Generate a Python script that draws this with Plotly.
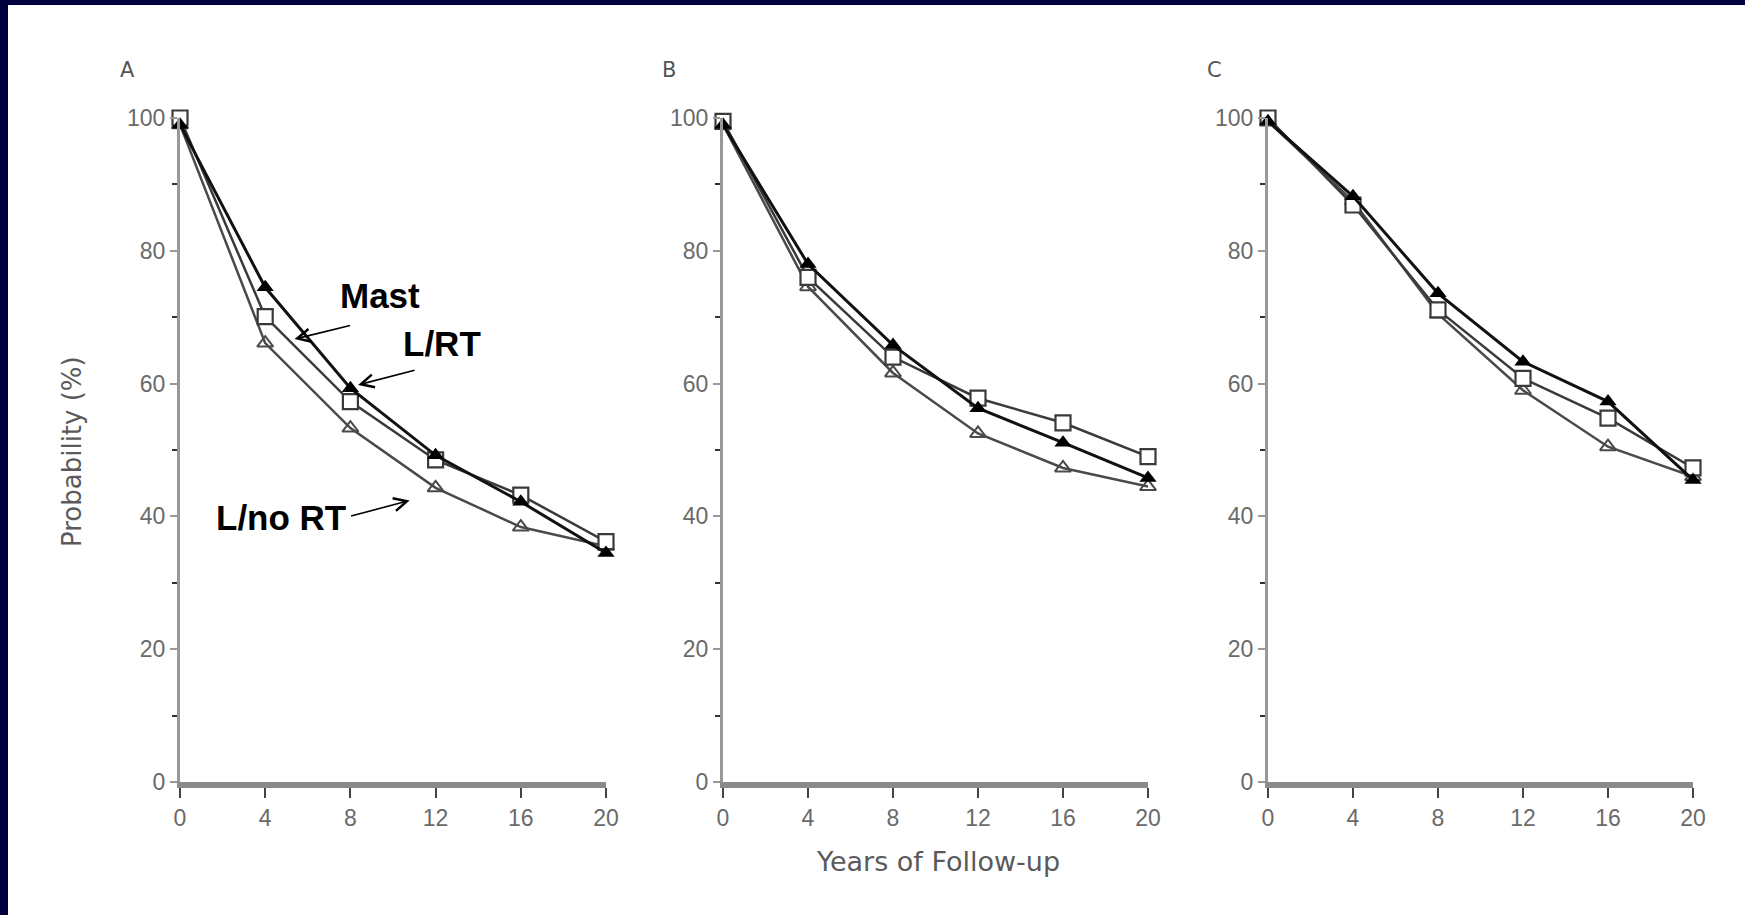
import plotly.graph_objects as go

years = [0, 4, 8, 12, 16, 20]

mast_A = [100, 70.1, 57.3, 48.5, 43.2, 36.2]
lrt_A = [99, 74.5, 59.3, 49.2, 42.2, 34.5]
lnort_A = [99, 66.1, 53.3, 44.3, 38.4, 35.5]

mast_B = [99.5, 76.0, 64.0, 57.8, 54.1, 49.0]
lrt_B = [99, 78.0, 65.8, 56.3, 51.1, 45.8]
lnort_B = [99, 74.6, 61.6, 52.5, 47.3, 44.5]

mast_C = [100, 86.9, 71.1, 60.8, 54.8, 47.3]
lrt_C = [99.5, 88.2, 73.6, 63.3, 57.3, 45.5]
lnort_C = [99.5, 87.5, 70.5, 59.0, 50.5, 46.0]

panel_labels = ["A", "B", "C"]
x_ticks = [0, 4, 8, 12, 16, 20]
y_ticks = [0, 20, 40, 60, 80, 100]

W, H = 1745, 915
panels = [(mast_A, lrt_A, lnort_A), (mast_B, lrt_B, lnort_B), (mast_C, lrt_C, lnort_C)]
x_domains = [(180, 606), (723, 1148), (1268, 1693)]
y_dom = (1 - 782 / H, 1 - 118 / H)

fig = go.Figure()
for i, (mast, lrt, lnort) in enumerate(panels):
    xa = "x" if i == 0 else f"x{i+1}"
    ya = "y" if i == 0 else f"y{i+1}"
    fig.add_trace(go.Scatter(x=years, y=lnort, xaxis=xa, yaxis=ya, mode="lines+markers",
                             line=dict(color="#4a4a4a", width=2.5),
                             marker=dict(symbol="triangle-up-open", size=14, color="#4a4a4a",
                                         line=dict(width=2, color="#4a4a4a")),
                             cliponaxis=False, showlegend=False, name="L/no RT"))
    fig.add_trace(go.Scatter(x=years, y=mast, xaxis=xa, yaxis=ya, mode="lines+markers",
                             line=dict(color="#3a3a3a", width=2.5),
                             marker=dict(symbol="square", size=15, color="white",
                                         line=dict(width=2.2, color="#3a3a3a")),
                             cliponaxis=False, showlegend=False, name="Mast"))
    fig.add_trace(go.Scatter(x=years, y=lrt, xaxis=xa, yaxis=ya, mode="lines+markers",
                             line=dict(color="#111111", width=3),
                             marker=dict(symbol="triangle-up", size=15, color="#000000"),
                             cliponaxis=False, showlegend=False, name="L/RT"))

axis_font = dict(family="Liberation Sans, Arial, sans-serif", size=23, color="#6a6a6a")
layout = dict(width=W, height=H, margin=dict(l=0, r=0, t=0, b=0),
              paper_bgcolor="white", plot_bgcolor="white", template="none",
              showlegend=False)
for i, (a, b) in enumerate(x_domains):
    xk = "xaxis" if i == 0 else f"xaxis{i+1}"
    yk = "yaxis" if i == 0 else f"yaxis{i+1}"
    xa_anchor = "y" if i == 0 else f"y{i+1}"
    ya_anchor = "x" if i == 0 else f"x{i+1}"
    layout[xk] = dict(domain=[a / W, b / W], range=[0, 20], anchor=xa_anchor,
                      tickvals=x_ticks, ticks="outside", ticklen=10, tickwidth=2,
                      tickcolor="#444444", showline=True, linecolor="#8a8a8a", linewidth=6,
                      showgrid=False, zeroline=False, tickfont=axis_font)
    layout[yk] = dict(domain=list(y_dom), range=[0, 100], anchor=ya_anchor,
                      tickvals=y_ticks, ticks="outside", ticklen=7, tickwidth=2,
                      tickcolor="#999999", showline=True, linecolor="#999999", linewidth=3,
                      showgrid=False, zeroline=False, tickfont=axis_font,
                      minor=dict(tickvals=[10, 30, 50, 70, 90], ticks="outside", ticklen=5,
                                 tickwidth=2, tickcolor="#333333"))
fig.update_layout(**layout)

annotations = []
label_pos = [(128, 70), (669, 70), (1214, 70)]
for lab, (px, py) in zip(panel_labels, label_pos):
    annotations.append(dict(text=lab, x=px / W, y=1 - py / H, xref="paper", yref="paper",
                            xanchor="center", yanchor="middle", showarrow=False,
                            font=dict(family="DejaVu Sans, sans-serif", size=21, color="#555555")))
annotations.append(dict(text="Probability (%)", x=72 / W, y=1 - 452 / H, xref="paper", yref="paper",
                        xanchor="center", yanchor="middle", textangle=-90, showarrow=False,
                        font=dict(family="DejaVu Sans, sans-serif", size=26, color="#5a5a5a")))
annotations.append(dict(text="Years of Follow-up", x=938 / W, y=1 - 861 / H, xref="paper", yref="paper",
                        xanchor="center", yanchor="middle", showarrow=False,
                        font=dict(family="DejaVu Sans, sans-serif", size=27, color="#5a5a5a")))
bold = dict(family="Liberation Sans, Arial, sans-serif", size=35, color="black")
annotations.append(dict(text="<b>Mast</b>", x=9.38, y=73.2, xref="x", yref="y", showarrow=False,
                        xanchor="center", yanchor="middle", font=bold))
annotations.append(dict(text="<b>L/RT</b>", x=12.28, y=66.1, xref="x", yref="y", showarrow=False,
                        xanchor="center", yanchor="middle", font=bold))
annotations.append(dict(text="<b>L/no RT</b>", x=4.73, y=39.8, xref="x", yref="y", showarrow=False,
                        xanchor="center", yanchor="middle", font=bold))
arrow = dict(text="", xref="x", yref="y", showarrow=True, arrowhead=5, arrowsize=1.6,
             arrowwidth=1.6, arrowcolor="black")
annotations.append(dict(arrow, x=5.38, y=66.7, ax=57, ay=-14))
annotations.append(dict(arrow, x=8.36, y=59.8, ax=58, ay=-15))
annotations.append(dict(arrow, x=10.78, y=42.4, ax=-60, ay=16))
fig.update_layout(annotations=annotations)

navy = "#00003f"
fig.update_layout(shapes=[
    dict(type="rect", xref="paper", yref="paper", x0=0, x1=8 / W, y0=0, y1=1,
         fillcolor=navy, line=dict(width=0), layer="below"),
    dict(type="rect", xref="paper", yref="paper", x0=0, x1=1, y0=1 - 5 / H, y1=1,
         fillcolor=navy, line=dict(width=0), layer="below"),
])

fig.write_html("out.html", config={"displayModeBar": False},
               post_script="document.body.style.margin='0px';document.body.style.overflow='hidden';")
